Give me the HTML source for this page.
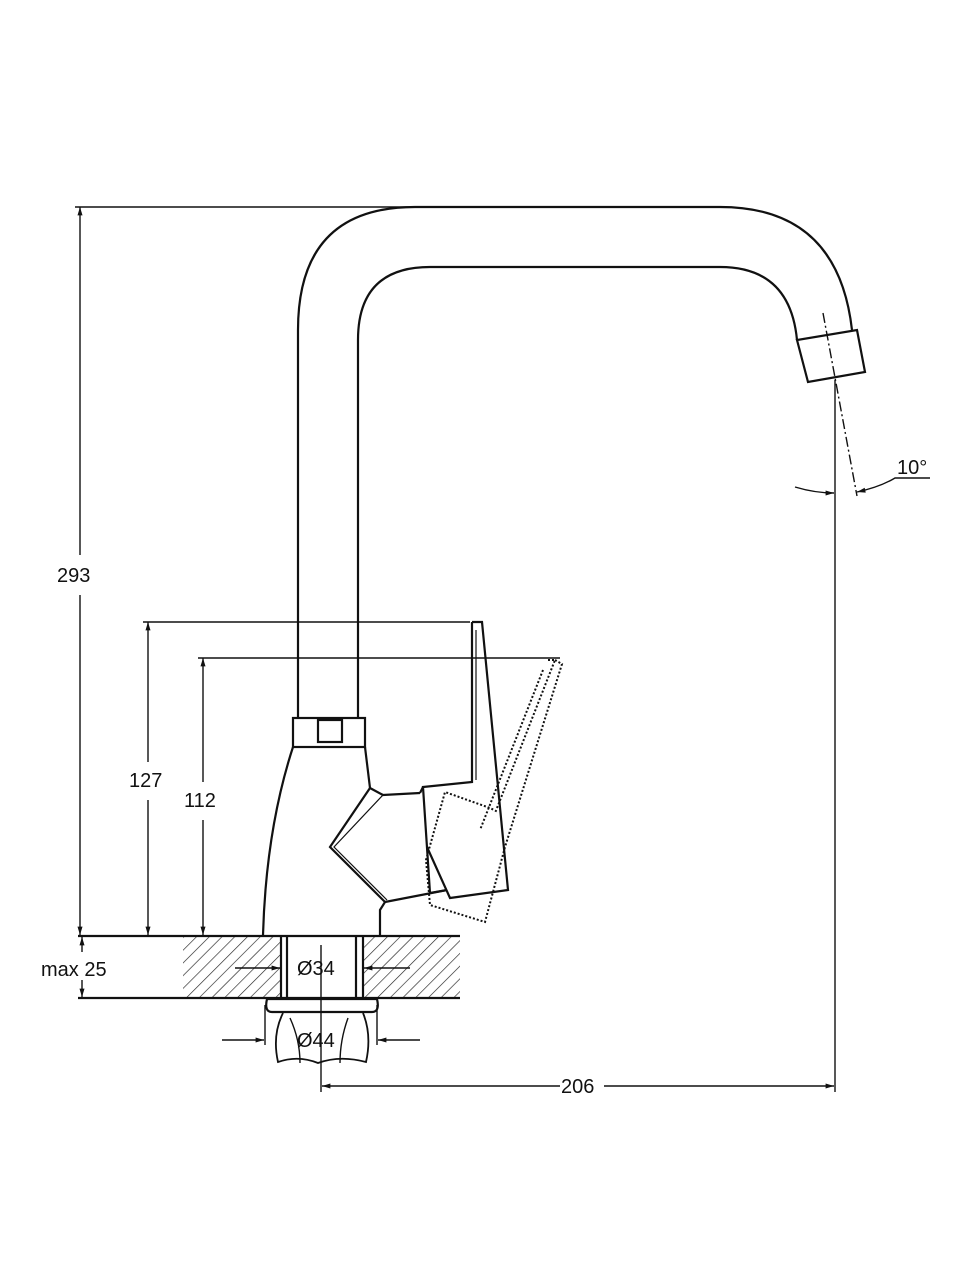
<!DOCTYPE html>
<html><head><meta charset="utf-8"><style>
html,body{margin:0;padding:0;background:#fff;}
svg{display:block;}
text{font-family:"Liberation Sans",sans-serif;fill:#111;}
</style></head><body>
<svg width="960" height="1280" viewBox="0 0 960 1280" xmlns="http://www.w3.org/2000/svg">
<defs>
<pattern id="h" patternUnits="userSpaceOnUse" width="9" height="9" patternTransform="rotate(45)">
<line x1="0" y1="0" x2="0" y2="9" stroke="#222" stroke-width="1.3"/>
</pattern>
<marker id="a" viewBox="0 0 10 10" refX="10" refY="5" markerWidth="9" markerHeight="6" orient="auto-start-reverse">
<path d="M0,2 L10,5 L0,8 z" fill="#111"/>
</marker>
</defs>
<g fill="none" stroke="#111" stroke-width="2.2">
<path d="M298,718 L298,330 Q298,207 415,207 L720,207 Q838,207 852,330"/>
<path d="M358,718 L358,340 Q358,267 430,267 L720,267 Q790,267 797,340"/>
<path d="M797,340 L808,382 L865,372 L857,330 Z"/>
<rect x="293" y="718" width="72" height="29"/>
<rect x="318" y="720" width="24" height="22"/>
<path d="M293,747 Q266,830 263,935"/>
<path d="M365,747 L370,788 L383,795 L420,793"/>
<path d="M370,788 L330,847 L385,902 L380,910 L380,935"/>
<path d="M383,795 L334,847 L387,900" stroke-width="1.2"/>
<path d="M385,902 L447,890"/>
<path d="M472,622 L482,622 L508,890 L450,898 L427,847"/>
<path d="M472,622 L472,782 L423,787 L430,893 L447,890"/>
<path d="M476,630 L476,780" stroke-width="1.2"/>
<path d="M420,793 L423,787"/>
<path d="M555,660 L562,664 L505,847 L485,922 L430,905 L426,860 L445,792 L490,808 L498,812" stroke-dasharray="2,2" stroke-width="2"/>
<path d="M548,660 L555,660 L497,808 M543,670 L480,830" stroke-dasharray="2,2" stroke-width="2"/>
<rect x="183" y="936" width="97" height="63" fill="url(#h)" stroke="none"/>
<rect x="363" y="936" width="97" height="63" fill="url(#h)" stroke="none"/>
<line x1="78" y1="936" x2="460" y2="936"/>
<line x1="78" y1="998" x2="460" y2="998"/>
<line x1="281" y1="936" x2="281" y2="998"/>
<line x1="287" y1="936" x2="287" y2="998"/>
<line x1="356" y1="936" x2="356" y2="998"/>
<line x1="363" y1="936" x2="363" y2="998"/>
<path d="M267,999 L377,999 Q380,1012 372,1012 L272,1012 Q264,1012 267,999 Z"/>
<path d="M283,1013 Q272,1035 278,1062 Q298,1055 318,1063 Q340,1055 366,1062 Q372,1035 363,1013" stroke-width="1.8"/>
<path d="M290,1018 Q300,1040 300,1063 M348,1018 Q340,1040 340,1063" stroke-width="1.4"/>
</g>
<g fill="none" stroke="#111" stroke-width="1.4">
<line x1="75" y1="207" x2="410" y2="207"/>
<line x1="80" y1="207" x2="80" y2="555" marker-start="url(#a)"/>
<line x1="80" y1="595" x2="80" y2="935" marker-end="url(#a)"/>
<line x1="143" y1="622" x2="470" y2="622"/>
<line x1="148" y1="622" x2="148" y2="762" marker-start="url(#a)"/>
<line x1="148" y1="800" x2="148" y2="935" marker-end="url(#a)"/>
<line x1="198" y1="658" x2="560" y2="658"/>
<line x1="203" y1="658" x2="203" y2="782" marker-start="url(#a)"/>
<line x1="203" y1="820" x2="203" y2="935" marker-end="url(#a)"/>
<line x1="82" y1="952" x2="82" y2="937" marker-end="url(#a)"/>
<line x1="82" y1="980" x2="82" y2="997" marker-end="url(#a)"/>
<line x1="235" y1="968" x2="280" y2="968" marker-end="url(#a)"/>
<line x1="410" y1="968" x2="364" y2="968" marker-end="url(#a)"/>
<line x1="265" y1="1005" x2="265" y2="1045"/>
<line x1="377" y1="1005" x2="377" y2="1045"/>
<line x1="222" y1="1040" x2="264" y2="1040" marker-end="url(#a)"/>
<line x1="420" y1="1040" x2="378" y2="1040" marker-end="url(#a)"/>
<line x1="321" y1="945" x2="321" y2="1092"/>
<line x1="835" y1="380" x2="835" y2="1092"/>
<line x1="560" y1="1086" x2="322" y2="1086" marker-end="url(#a)"/>
<line x1="604" y1="1086" x2="834" y2="1086" marker-end="url(#a)"/>
<line x1="823" y1="313" x2="857" y2="496" stroke-dasharray="10,3,2,3"/>
<path d="M795,487 Q815,493 834,493" marker-end="url(#a)"/>
<path d="M930,478 L895,478 Q880,487 857,492" marker-end="url(#a)"/>
</g>
<g font-size="20">
<text x="57" y="582">293</text>
<text x="129" y="787">127</text>
<text x="184" y="807">112</text>
<text x="41" y="976">max 25</text>
<text x="297" y="975">Ø34</text>
<text x="297" y="1047">Ø44</text>
<text x="561" y="1093">206</text>
<text x="897" y="474">10°</text>
</g>
</svg>
</body></html>
